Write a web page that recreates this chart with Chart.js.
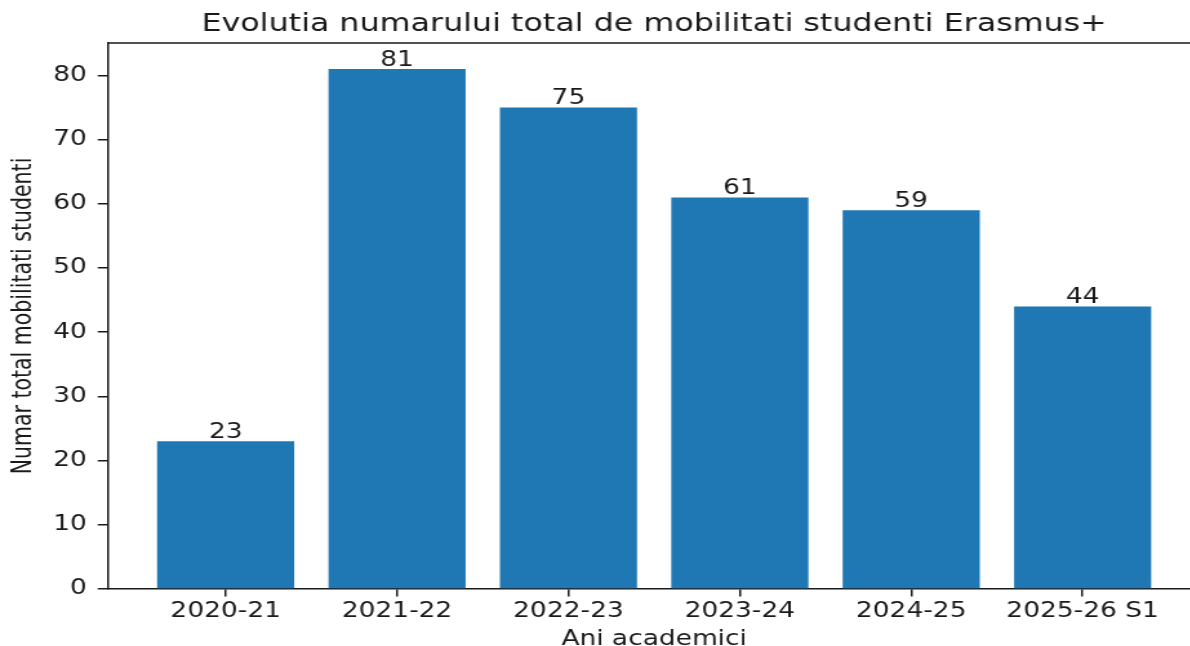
<!DOCTYPE html>
<html>
<head>
<meta charset="utf-8">
<script src="https://cdn.jsdelivr.net/npm/chart.js@4/dist/chart.umd.min.js"></script>
<style>
  html, body { margin: 0; padding: 0; overflow: hidden; background: #fff; width: 1190px; height: 646px; }
  #wrap { width: 940px; height: 652px; transform: scaleX(1.29); transform-origin: 0 0; }
  canvas { display: block; }
</style>
</head>
<body>
<div id="wrap"><canvas id="c" width="940" height="652"></canvas></div>
<script>
const categories = ["2020-21", "2021-22", "2022-23", "2023-24", "2024-25", "2025-26 S1"];
const values = [23, 81, 75, 61, 59, 44];
const yTicks = [0, 10, 20, 30, 40, 50, 60, 70, 80];
const titleText = "Evolutia numarului total de mobilitati studenti Erasmus+";
const xTitle = "Ani academici";
const yTitle = "Numar total mobilitati studenti";

const FONT = "DejaVu Sans";
const INK = "#1a1a1a";

const frame = {
  id: 'frame',
  afterDraw(chart) {
    const {ctx, chartArea: a} = chart;
    ctx.save();
    ctx.strokeStyle = INK;
    ctx.lineWidth = 1.5;
    ctx.beginPath();
    ctx.moveTo(a.left, a.top);
    ctx.lineTo(a.right, a.top);
    ctx.lineTo(a.right, a.bottom);
    ctx.stroke();
    ctx.restore();
  }
};

const barLabels = {
  id: 'barLabels',
  afterDatasetsDraw(chart) {
    const {ctx} = chart;
    const meta = chart.getDatasetMeta(0);
    ctx.save();
    ctx.font = `20.5px "${FONT}"`;
    ctx.fillStyle = INK;
    ctx.textAlign = 'center';
    ctx.textBaseline = 'alphabetic';
    meta.data.forEach((bar, i) => {
      ctx.fillText(String(values[i]), bar.x, bar.y - 3.3);
    });
    ctx.restore();
  }
};

new Chart(document.getElementById('c'), {
  type: 'bar',
  data: {
    datasets: [{
      data: categories.map((c, i) => ({x: i, y: values[i]})),
      backgroundColor: '#1f77b4',
      borderWidth: 0,
      categoryPercentage: 1,
      barPercentage: 0.8
    }]
  },
  options: {
    responsive: false,
    animation: false,
    layout: { padding: { left: 0, right: 9.1, top: 0, bottom: 0 } },
    plugins: {
      legend: { display: false },
      tooltip: { enabled: false },
      title: {
        display: true,
        fullSize: false,
        text: titleText,
        color: INK,
        font: { family: FONT, size: 24.6, weight: 'normal', lineHeight: 1.2 },
        padding: { top: 10, bottom: 3.5 }
      }
    },
    scales: {
      x: {
        type: 'linear',
        offset: false,
        min: -0.69,
        max: 5.69,
        afterBuildTicks: s => { s.ticks = categories.map((c, i) => ({value: i})); },
        afterFit: s => { s.height = 63; },
        ticks: {
          autoSkip: false,
          maxRotation: 0,
          padding: 3,
          color: INK,
          font: { family: FONT, size: 20.5, lineHeight: 1.2 },
          callback: v => categories[v]
        },
        grid: { offset: false, drawOnChartArea: false, drawTicks: true, tickLength: 7.5, color: INK, lineWidth: 1.5 },
        border: { display: true, color: INK, width: 1.5 },
        title: {
          display: true,
          text: xTitle,
          color: INK,
          font: { family: FONT, size: 20.5, lineHeight: 1.2 },
          padding: { top: 0, bottom: 0 }
        }
      },
      y: {
        type: 'linear',
        min: 0,
        max: 85.05,
        afterBuildTicks: s => { s.ticks = yTicks.map(v => ({value: v})); },
        afterFit: s => { s.width = 83.25; },
        ticks: {
          padding: 8.5,
          color: INK,
          font: { family: FONT, size: 20.5, lineHeight: 1.2 }
        },
        grid: { drawOnChartArea: false, drawTicks: true, tickLength: 7.5, color: INK, lineWidth: 1.5 },
        border: { display: true, color: INK, width: 1.5 },
        title: {
          display: true,
          text: yTitle,
          color: INK,
          font: { family: FONT, size: 20.5, lineHeight: 1.2 },
          padding: { top: 6.4, bottom: 0 }
        }
      }
    }
  },
  plugins: [frame, barLabels]
});
</script>
</body>
</html>
